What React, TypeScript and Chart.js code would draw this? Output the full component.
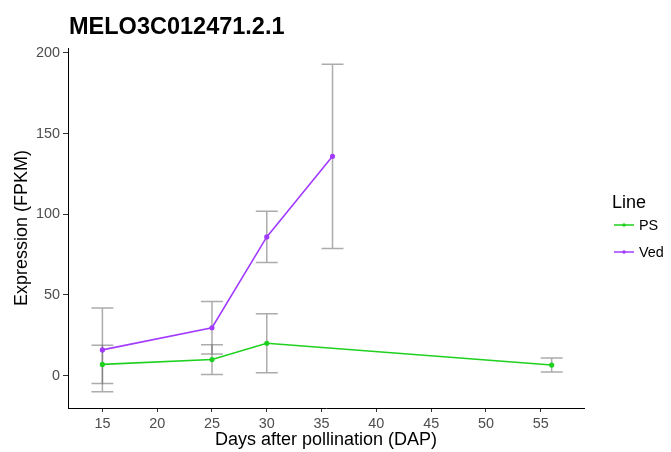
import React, { useEffect, useRef } from 'react';
import { Chart, registerables } from 'chart.js';

Chart.register(...registerables);

const chartTitle = 'MELO3C012471.2.1';
const xAxisTitle = 'Days after pollination (DAP)';
const yAxisTitle = 'Expression (FPKM)';
const legendTitle = 'Line';

const psLabel = 'PS';
const psDays = [15, 25, 30, 56];
const psValues = [7.0, 10.0, 20.1, 6.6];
const psErrors = [11.9, 9.2, 18.3, 4.3];

const vedLabel = 'Ved';
const vedDays = [15, 25, 30, 36];
const vedValues = [16.0, 29.7, 86.0, 135.9];
const vedErrors = [26.0, 16.3, 15.8, 57.1];

const xTicks = [15, 20, 25, 30, 35, 40, 45, 50, 55];
const yTicks = [0, 50, 100, 150, 200];

const psColor = '#1FD11F';
const vedColor = '#A23BFF';
const FONT = '"Liberation Sans", Arial, sans-serif';

const errorBarPlugin = {
  id: 'errorBars',
  beforeDatasetsDraw(chart: any) {
    const ctx = chart.ctx;
    const xs = chart.scales.x;
    const ys = chart.scales.y;
    const groups = [
      { days: psDays, values: psValues, errors: psErrors },
      { days: vedDays, values: vedValues, errors: vedErrors },
    ];
    ctx.save();
    ctx.strokeStyle = 'rgba(90,90,90,0.5)';
    ctx.lineWidth = 1.5;
    groups.forEach((g) => {
      g.days.forEach((d, i) => {
        const x = xs.getPixelForValue(d);
        const hw = xs.getPixelForValue(d + 1) - x;
        const yTop = ys.getPixelForValue(g.values[i] + g.errors[i]);
        const yBot = ys.getPixelForValue(g.values[i] - g.errors[i]);
        ctx.beginPath();
        ctx.moveTo(x, yTop);
        ctx.lineTo(x, yBot);
        ctx.moveTo(x - hw, yTop);
        ctx.lineTo(x + hw, yTop);
        ctx.moveTo(x - hw, yBot);
        ctx.lineTo(x + hw, yBot);
        ctx.stroke();
      });
    });
    ctx.restore();
  },
};

const decorPlugin = {
  id: 'decor',
  afterDraw(chart: any) {
    const ctx = chart.ctx;
    const area = chart.chartArea;
    ctx.save();
    // title
    ctx.fillStyle = '#000';
    ctx.font = `bold 23.5px ${FONT}`;
    ctx.textAlign = 'left';
    ctx.textBaseline = 'middle';
    ctx.fillText(chartTitle, area.left + 1, 28);
    // legend
    const lx = area.right + 28;
    ctx.font = `18px ${FONT}`;
    ctx.fillText(legendTitle, lx, 203);
    const items = [
      { label: psLabel, color: psColor, y: 225 },
      { label: vedLabel, color: vedColor, y: 252 },
    ];
    ctx.font = `14.4px ${FONT}`;
    items.forEach((it) => {
      ctx.strokeStyle = it.color;
      ctx.lineWidth = 1.5;
      ctx.beginPath();
      ctx.moveTo(lx + 2, it.y);
      ctx.lineTo(lx + 22, it.y);
      ctx.stroke();
      ctx.fillStyle = it.color;
      ctx.beginPath();
      ctx.arc(lx + 12, it.y, 1.8, 0, Math.PI * 2);
      ctx.fill();
      ctx.fillStyle = '#000';
      ctx.fillText(it.label, lx + 27, it.y + 1);
    });
    ctx.restore();
  },
};

export default function App() {
  const ref = useRef<HTMLCanvasElement>(null);
  useEffect(() => {
    if (!ref.current) return;
    const chart = new Chart(ref.current, {
      type: 'line',
      data: {
        datasets: [
          {
            label: psLabel,
            data: psDays.map((d, i) => ({ x: d, y: psValues[i] })),
            borderColor: psColor,
            backgroundColor: psColor,
            borderWidth: 1.6,
            pointRadius: 1.8,
            pointHoverRadius: 1.8,
            tension: 0,
          },
          {
            label: vedLabel,
            data: vedDays.map((d, i) => ({ x: d, y: vedValues[i] })),
            borderColor: vedColor,
            backgroundColor: vedColor,
            borderWidth: 1.6,
            pointRadius: 1.8,
            pointHoverRadius: 1.8,
            tension: 0,
          },
        ],
      },
      options: {
        animation: false,
        responsive: false,
        maintainAspectRatio: false,
        layout: { padding: { top: 48, right: 87, left: 0, bottom: 0 } },
        plugins: {
          legend: { display: false },
          title: { display: false },
          tooltip: { enabled: false },
        },
        scales: {
          x: {
            type: 'linear',
            min: 11.86,
            max: 58.95,
            afterBuildTicks: (s: any) => {
              s.ticks = xTicks.map((v) => ({ value: v }));
            },
            afterFit: (s: any) => {
              s.height = 44;
            },
            grid: {
              drawOnChartArea: false,
              drawTicks: true,
              tickLength: 4,
              color: '#333',
            },
            border: { display: true, color: '#000', width: 1 },
            ticks: {
              padding: 3,
              color: '#4D4D4D',
              font: { family: FONT, size: 14.4 },
              maxRotation: 0,
              autoSkip: false,
            },
            title: {
              display: true,
              text: xAxisTitle,
              color: '#000',
              font: { family: FONT, size: 18 },
              padding: { top: 0, bottom: 1 },
            },
          },
          y: {
            type: 'linear',
            min: -20,
            max: 203,
            afterBuildTicks: (s: any) => {
              s.ticks = yTicks.map((v) => ({ value: v }));
            },
            afterFit: (s: any) => {
              s.width = 68;
            },
            grid: {
              drawOnChartArea: false,
              drawTicks: true,
              tickLength: 5,
              color: '#333',
            },
            border: { display: true, color: '#000', width: 1 },
            ticks: {
              padding: 3,
              color: '#4D4D4D',
              font: { family: FONT, size: 14.4 },
              autoSkip: false,
            },
            title: {
              display: true,
              text: yAxisTitle,
              color: '#000',
              font: { family: FONT, size: 18 },
              padding: { top: 11, bottom: 0 },
            },
          },
        },
      },
      plugins: [errorBarPlugin, decorPlugin],
    } as any);
    return () => chart.destroy();
  }, []);
  return (
    <div style={{ position: 'absolute', left: 0, top: 0, width: 671, height: 452, background: '#fff' }}>
      <canvas ref={ref} width={671} height={452} style={{ display: 'block', width: 671, height: 452 }} />
    </div>
  );
}
